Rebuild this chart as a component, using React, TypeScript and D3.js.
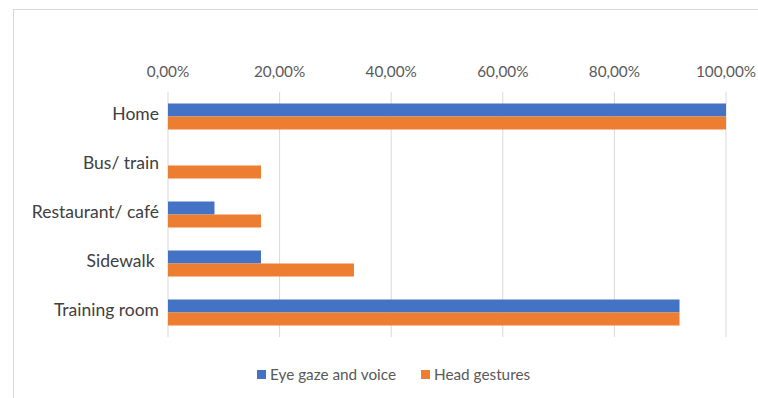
import React from "react";
import * as d3 from "d3";

const categories = ["Home", "Bus/ train", "Restaurant/ café", "Sidewalk ", "Training room"];
const seriesNames = ["Eye gaze and voice", "Head gestures"];
const eyeGaze = [1.0, 0.0, 0.0833, 0.1667, 0.9167];
const headGestures = [1.0, 0.1667, 0.1667, 0.3333, 0.9167];
const tickValues = [0, 0.2, 0.4, 0.6, 0.8, 1.0];
const colors = ["#4472C4", "#ED7D31"];

const W = 758;
const H = 398;
const font = "Lato, 'Open Sans', sans-serif";

export default function App() {
  const x = d3.scaleLinear().domain([0, 1]).range([168, 726]);
  const y = d3.scaleBand<string>().domain(categories).range([92, 337]).paddingInner(0).paddingOuter(0);
  const sub = d3.scaleBand<string>().domain(seriesNames).range([0, 26]);
  const band = y.bandwidth();
  const offset = (band - 26) / 2;
  const fmt = (v: number) => (v * 100).toFixed(2).replace(".", ",") + "%";
  const series = [eyeGaze, headGestures];

  return (
    <svg width={W} height={H} style={{ position: "absolute", left: 0, top: 0 }}>
      <rect x={0} y={0} width={W} height={H} fill="#fff" />
      <rect x={13.5} y={9.5} width={W + 20} height={H + 20} fill="#fff" stroke="#d9d9d9" strokeWidth={1} />
      {tickValues.map((t) => (
        <g key={t}>
          <line x1={x(t)} x2={x(t)} y1={92} y2={337} stroke="#d9d9d9" strokeWidth={1} />
          <text x={x(t)} y={76.5} textAnchor="middle" fontFamily={font} fontSize={15.3} fill="#595959">
            {fmt(t)}
          </text>
        </g>
      ))}
      {categories.map((c, i) => (
        <g key={c}>
          {series.map((s, j) =>
            s[i] > 0 ? (
              <rect
                key={j}
                x={x(0)}
                y={(y(c) as number) + offset + (sub(seriesNames[j]) as number)}
                width={x(s[i]) - x(0)}
                height={sub.bandwidth()}
                fill={colors[j]}
              />
            ) : null
          )}
          <text
            x={159}
            y={(y(c) as number) + band / 2 - 1}
            textAnchor="end"
            dominantBaseline="middle"
            fontFamily={font}
            fontSize={17.5}
            fill="#404040"
            style={{ whiteSpace: "pre" }}
          >
            {c}
          </text>
        </g>
      ))}
      <g>
        <rect x={257} y={370} width={9} height={9} fill={colors[0]} />
        <text x={270} y={379.5} fontFamily={font} fontSize={15.3} fill="#595959">
          {seriesNames[0]}
        </text>
        <rect x={421} y={370} width={9} height={9} fill={colors[1]} />
        <text x={434} y={379.5} fontFamily={font} fontSize={15.3} fill="#595959">
          {seriesNames[1]}
        </text>
      </g>
    </svg>
  );
}
